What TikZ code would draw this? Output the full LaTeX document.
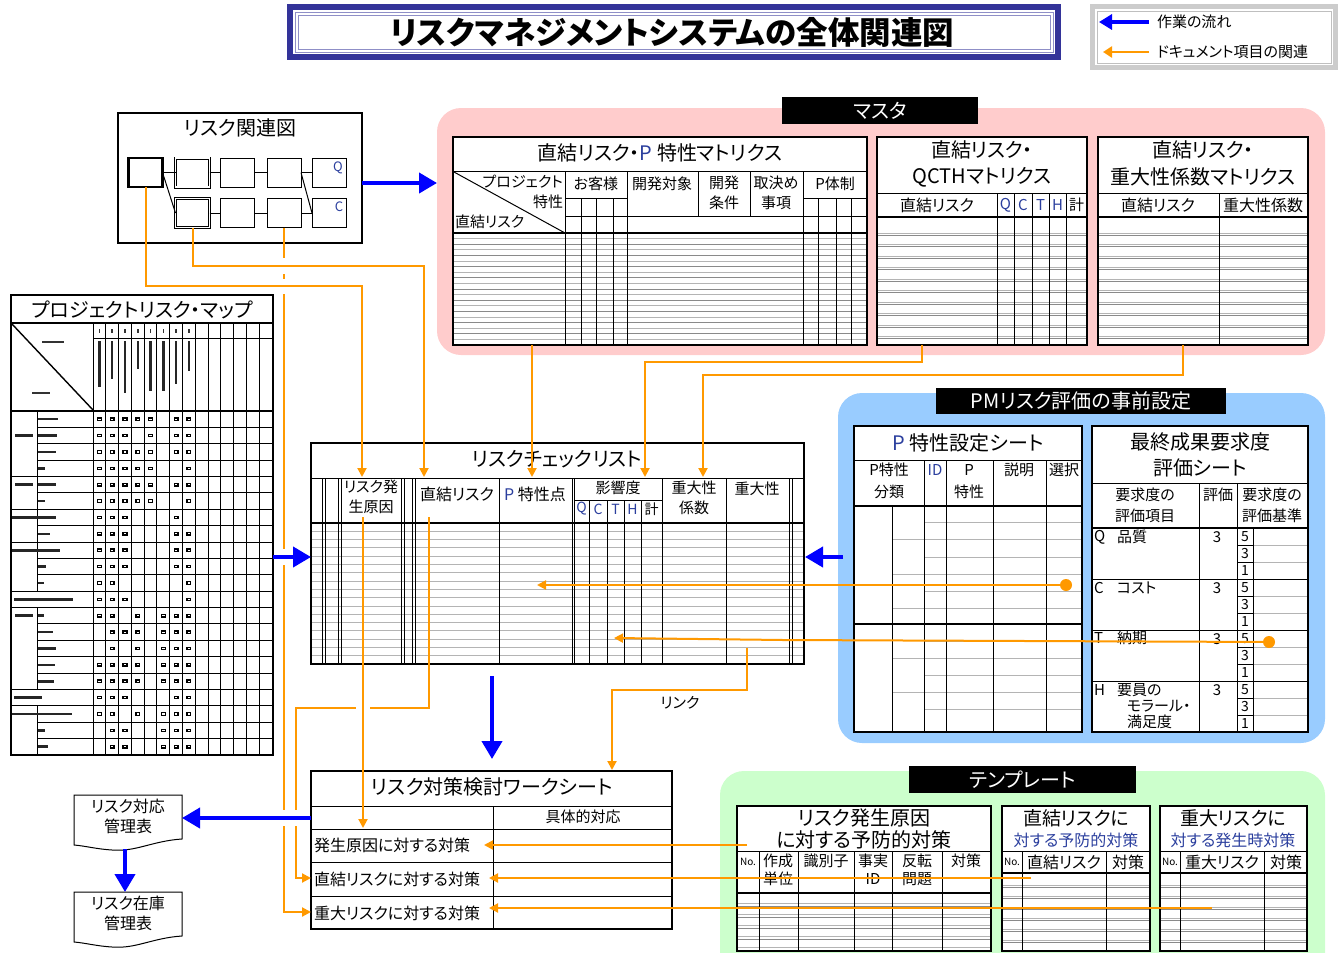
\documentclass[tikz,border=0pt]{standalone}
\usepackage{fontspec}
\setmainfont{Noto Sans CJK JP}[RawFeature=+palt]
\usetikzlibrary{arrows.meta,fit}
\definecolor{tframe}{HTML}{333399}
\definecolor{org}{HTML}{FF9900}
\definecolor{blu}{HTML}{0000FF}
\definecolor{pinkbg}{HTML}{FFCCCC}
\definecolor{bluebg}{HTML}{99CCFF}
\definecolor{greenbg}{HTML}{CCFFCC}
\definecolor{gline}{HTML}{B4B4B4}
\definecolor{gdark}{HTML}{8A8A8A}
\definecolor{navy}{HTML}{2B3F9E}
\newcommand{\fs}[1]{\fontsize{#1}{#1}\selectfont}
\begin{document}
\begin{tikzpicture}[x=1pt,y=-1pt,
  every node/.style={inner sep=0pt,outer sep=0pt},
  lbl/.style={anchor=center},
  lbll/.style={anchor=west},
  lblr/.style={anchor=east},
  tab/.style={draw=black,line width=2.2pt,fill=white},
  bl/.style={draw=black,line width=1pt},
  bk/.style={draw=black,line width=1.6pt},
  gl/.style={draw=gline,line width=0.9pt},
  gd/.style={draw=gdark,line width=0.7pt},
  oarr/.style={draw=org,line width=2pt,-{Triangle[length=9pt,width=9pt]}},
  barr/.style={draw=blu,line width=4pt,-{Triangle[length=18pt,width=20pt]}},
  tag/.style={fill=black,text=white,font=\fs{20}},
  sbox/.style={draw=black,line width=1pt,fill=white,minimum width=34pt,minimum height=29pt},
  dbox/.style={sbox,double,double distance=1.6pt,line width=0.7pt},
  dot/.style={circle,fill=org,minimum size=12pt},
  gap/.style={fill=white},
]
\useasboundingbox (0,0) rectangle (1342,953);
\clip (0,0) rectangle (1342,953);

% ---------------- background regions
\fill[pinkbg,rounded corners=24pt] (437,108) rectangle (1325,355);
\fill[bluebg,rounded corners=24pt] (838,393) rectangle (1325,743);
\fill[greenbg,rounded corners=24pt] (720,771) rectangle (1325,1000);
\node[tag,minimum width=196pt,minimum height=27pt] (mtag) at (880,110.5) {マスタ};
\node[tag,minimum width=290pt,minimum height=26pt] (ptag) at (1081,401) {PMリスク評価の事前設定};
\node[tag,minimum width=227pt,minimum height=27pt] (ttag) at (1022.5,779.5) {テンプレート};

% ---------------- title
\node[fill=tframe,fit={(287,4) (1061,60)}] (titlebox) {};
\fill[white] (293,10) rectangle (1055,54);
\draw[tframe!55,line width=0.7pt] (295,12) rectangle (1053,52);
\draw[tframe!55,line width=0.7pt] (298,15) rectangle (1050,49);
\node[lbl] (title) at (672,32) {\fs{31.5}\bfseries リスクマネジメントシステムの全体関連図};

% ---------------- legend
\node[fill=gray!40,fit={(1090,4) (1338,70)}] (legend) {};
\fill[white] (1095,9) rectangle (1333,65);
\draw[gray!50,line width=0.6pt] (1097,11) rectangle (1331,63);
\coordinate (lgA) at (1149,22); \coordinate (lgB) at (1099,22);
\coordinate (lgC) at (1149,52); \coordinate (lgD) at (1103,52);
\draw[draw=blu,line width=3.5pt,-{Triangle[length=13pt,width=15pt]}] (lgA) -- (lgB);
\draw[draw=org,line width=2.5pt,-{Triangle[length=9pt,width=11pt]}] (lgC) -- (lgD);
\node[lbll] (lg1) at (1157,22) {\fs{15}作業の流れ};
\node[lbll] (lg2) at (1157,52) {\fs{15}ドキュメント項目の関連};

% ---------------- risk related diagram
\node[tab,line width=2.5pt,fit={(118,113) (362,243)}] (rk) {};
\node[lbl] (rkt) at (240,128) {\fs{20}リスク関連図};
\node[sbox,line width=2.2pt] (r11) at (145.5,172.5) {};
\node[dbox] (r12) at (192.5,172.5) {};
\node[sbox] (r13) at (237.5,172.5) {};
\node[sbox] (r14) at (284,172.5) {};
\node[sbox] (r15) at (329,172.5) {};
\node[dbox] (r22) at (192.5,213) {};
\node[sbox] (r23) at (237.5,213) {};
\node[sbox] (r24) at (284,213) {};
\node[sbox] (r25) at (329,213) {};
\draw[bl] (r11.east) -- (r12.west);
\draw[bl] (r12.east) -- (r13.west);
\draw[bl] (r13.east) -- (r14.west);
\draw[bl] (r14.east) -- (r15.west);
\draw[bl] (r22.east) -- (r23.west);
\draw[bl] (r23.east) -- (r24.west);
\draw[bl] (r24.east) -- (r25.west);
\draw[bl] (r11.east) -- (r22.west);
\draw[bl] (r14.east) -- (r25.west);
\node[lbl] (qlab) at (338,168) {\fs{13}\color{navy}Q};
\node[lbl] (clab) at (339,207) {\fs{13}\color{navy}C};

% ---------------- project risk map
\node[tab,line width=2.5pt,fit={(11,295) (273,755)}] (map) {};
\node[lbl] (mapt) at (142,310) {\fs{20}プロジェクトリスク・マップ};
\draw[bk] (11,323) -- (273,323);
\draw[bl] (93,338) -- (273,338);
\foreach \k in {0,...,13} \draw[bl] ({93+\k*12.786},323) -- ({93+\k*12.786},755);
\foreach \r in {1,...,20} \draw[bl] (37,{411+\r*16.38}) -- (273,{411+\r*16.38});
\foreach \r in {4,6,8,11,12,17,18} \draw[bl] (11,{411+\r*16.38}) -- (37,{411+\r*16.38});
\draw[bl] (37,411) -- (37,{411+11*16.38});
\draw[bl] (37,{411+12*16.38}) -- (37,{411+17*16.38});
\draw[bl] (37,{411+18*16.38}) -- (37,755);
\draw[bk] (11,411) -- (273,411);
\draw[bl,line width=1.4pt] (12,324) -- (93,410);
\foreach \c/\len in {1/46,2/38,3/52,4/28,5/50,6/50,7/43,8/30} {
  \fill[black!85] ({93+(\c-0.5)*12.786-1.2},341) rectangle ++(2.4,\len);
  \fill[black!80] ({93+(\c-0.5)*12.786-0.8},329) rectangle ++(1.6,4);
}
\fill[black!80] (42,341) rectangle (64,343);
\fill[black!80] (32,392) rectangle (50,394);
\foreach \r/\a/\b in {1/38/58,2/38/57,3/38/56,4/38/45,5/38/56,6/38/45,7/12/56,8/38/50,9/12/60,10/38/46,11/38/44,12/14/73,13/38/44,14/38/53,15/38/56,16/38/55,17/38/54,18/14/42,19/12/72,20/38/45,21/38/48}
  \fill[black!85] (\a,{411+(\r-0.5)*16.38-1.3}) rectangle (\b,{411+(\r-0.5)*16.38+1.3});
\foreach \r in {2,5,13}
  \fill[black!85] (15,{411+(\r-0.5)*16.38-1.3}) rectangle (33,{411+(\r-0.5)*16.38+1.3});
\foreach \r/\cs in {1/{1,2,3,4,5,7,8},2/{1,2,3,5,7,8},3/{1,2,3,4,5,7,8},4/{1,2,3,4,5,8},5/{1,2,3,4,5,7,8},6/{1,2,3,4,5,8},7/{1,2,3,7},8/{1,2,3,7,8},9/{1,2,3,7,8},10/{1,2,3,7,8},11/{1,2,8},12/{1,2,3,8},13/{1,2,4,6,7,8},14/{2,3,4,6,7,8},15/{2,4,6,7,8},16/{1,2,3,4,6,7,8},17/{1,2,3,4,6,7,8},18/{1,2,3,7,8},19/{1,2,4,6,7,8},20/{2,3,6,7,8},21/{2,3,6,7,8}} {
  \foreach \c in \cs {
    \pgfmathsetmacro{\cx}{93+(\c-0.5)*12.786}
    \pgfmathsetmacro{\cy}{411+(\r-0.5)*16.38}
    \fill[black] ({\cx-2.6},{\cy-1.8}) rectangle ({\cx+2.6},{\cy+1.8});
    \fill[white] ({\cx-1.2},{\cy-0.6}) rectangle ({\cx+1.2},{\cy+0.6});
  }
}
\draw[line width=2.5pt] (map.north west) rectangle (map.south east);

% ---------------- master table 1
\node[tab,fit={(453,137) (867,345)}] (mt1) {};
\node[lbl] (mt1t) at (660,153) {\fs{20}直結リスク・{\color{navy}P} 特性マトリクス};
\foreach \k in {1,...,19} {
  \pgfmathsetmacro{\yy}{233+\k*5.6}
  \ifodd\k \draw[gl] (453,\yy) -- (867,\yy); \else \draw[gd] (453,\yy) -- (867,\yy); \fi
}
\draw[bl] (453,171) -- (867,171);
\draw[bl] (454,172) -- (565,233);
\foreach \x in {565,627,803} \draw[bl] (\x,171) -- (\x,345);
\foreach \x in {698,750} \draw[bl] (\x,171) -- (\x,216);
\draw[bl] (565,198) -- (627,198);
\draw[bl] (803,198) -- (867,198);
\foreach \x in {581,596,613,818,836,851} \draw[bl] (\x,198) -- (\x,345);
\draw[bl] (565,216) -- (867,216);
\draw[bk] (453,233) -- (867,233);
\node[lblr] (h1a) at (563,182) {\fs{15}プロジェクト};
\node[lblr] (h1b) at (563,202) {\fs{15}特性};
\node[lbll] (h1c) at (455,222) {\fs{15}直結リスク};
\node[lbl] (h1d) at (596,184) {\fs{15}お客様};
\node[lbl] (h1e) at (662,184) {\fs{15}開発対象};
\node[lbl] (h1f) at (724,183) {\fs{15}開発};
\node[lbl] (h1g) at (724,203) {\fs{15}条件};
\node[lbl] (h1h) at (776,183) {\fs{15}取決め};
\node[lbl] (h1i) at (776,203) {\fs{15}事項};
\node[lbl] (h1j) at (835,184) {\fs{15}P体制};
\draw[line width=2.2pt] (mt1.north west) rectangle (mt1.south east);

% ---------------- master table 2
\node[tab,fit={(877,137) (1087,345)}] (mt2) {};
\node[lbl] (mt2t) at (982,150) {\fs{20}直結リスク・};
\node[lbl] (mt2u) at (982,177) {\fs{20}QCTHマトリクス};
\foreach \k in {0,...,9} {
  \draw[gl] (877,{233+\k*11.5}) -- (1087,{233+\k*11.5});
  \draw[gd] (877,{235.2+\k*11.5}) -- (1087,{235.2+\k*11.5});
}
\draw[bl] (877,193) -- (1087,193);
\foreach \x in {997,1014,1032,1049,1066} \draw[bl] (\x,193) -- (\x,345);
\draw[bk] (877,217) -- (1087,217);
\node[lbl] (h2a) at (937,205) {\fs{16}直結リスク};
\node[lbl] (h2q) at (1005.5,205) {\fs{15}\color{navy}Q};
\node[lbl] (h2c) at (1023,205) {\fs{15}\color{navy}C};
\node[lbl] (h2t) at (1040.5,205) {\fs{15}\color{navy}T};
\node[lbl] (h2h) at (1057.5,205) {\fs{15}\color{navy}H};
\node[lbl] (h2s) at (1076.5,205) {\fs{15}計};
\draw[line width=2.2pt] (mt2.north west) rectangle (mt2.south east);

% ---------------- master table 3
\node[tab,fit={(1098,137) (1308,345)}] (mt3) {};
\node[lbl] (mt3t) at (1203,150) {\fs{20}直結リスク・};
\node[lbl] (mt3u) at (1203,177) {\fs{20}重大性係数マトリクス};
\foreach \k in {0,...,9} {
  \draw[gl] (1098,{233+\k*11.5}) -- (1308,{233+\k*11.5});
  \draw[gd] (1098,{235.2+\k*11.5}) -- (1308,{235.2+\k*11.5});
}
\draw[bl] (1098,193) -- (1308,193);
\draw[bl] (1219,193) -- (1219,345);
\draw[bk] (1098,217) -- (1308,217);
\node[lbl] (h3a) at (1158,205) {\fs{16}直結リスク};
\node[lbl] (h3b) at (1263,205) {\fs{16}重大性係数};
\draw[line width=2.2pt] (mt3.north west) rectangle (mt3.south east);

% ---------------- P characteristic sheet
\node[tab,fit={(854,426) (1082,732)}] (ps) {};
\node[lbl] (pst) at (968,443) {\fs{20}{\color{navy}P} 特性設定シート};
\foreach \y in {522,557,591,641,675,709} \draw[gl] (924,\y) -- (1082,\y);
\foreach \y in {539,574,608,658,692} \draw[gl] (892,\y) -- (1082,\y);
\draw[bl] (854,460) -- (1082,460);
\foreach \x in {924,946,993,1046} \draw[bl] (\x,460) -- (\x,732);
\draw[bl] (892,506) -- (892,732);
\draw[bk] (854,506) -- (1082,506);
\draw[bk] (854,624) -- (1082,624);
\node[lbl] (p1) at (889,470) {\fs{15}P特性};
\node[lbl] (p2) at (889,492) {\fs{15}分類};
\node[lbl] (p3) at (935,470) {\fs{15}\color{navy}ID};
\node[lbl] (p4) at (969,470) {\fs{15}P};
\node[lbl] (p5) at (969,492) {\fs{15}特性};
\node[lbl] (p6) at (1019,470) {\fs{15}説明};
\node[lbl] (p7) at (1064,470) {\fs{15}選択};
\draw[line width=2.2pt] (ps.north west) rectangle (ps.south east);

% ---------------- final result requirement sheet
\node[tab,fit={(1092,426) (1308,732)}] (fs) {};
\node[lbl] (fst1) at (1200,442) {\fs{20}最終成果要求度};
\node[lbl] (fst2) at (1200,468) {\fs{20}評価シート};
\foreach \g in {528,579,630,681} {
  \draw[gl] (1253,{\g+17}) -- (1308,{\g+17});
  \draw[gl] (1253,{\g+34}) -- (1308,{\g+34});
  \draw[bl] (1237,{\g+17}) -- (1253,{\g+17});
  \draw[bl] (1237,{\g+34}) -- (1253,{\g+34});
  \node[lbl] at (1245,{\g+9}) {\fs{14}5};
  \node[lbl] at (1245,{\g+26}) {\fs{14}3};
  \node[lbl] at (1245,{\g+43}) {\fs{14}1};
  \node[lbl] at (1217,{\g+9}) {\fs{15}3};
}
\draw[bl] (1092,483) -- (1308,483);
\draw[bl] (1199,483) -- (1199,732);
\draw[bl] (1237,483) -- (1237,732);
\draw[bl] (1253,528) -- (1253,732);
\draw[bk] (1092,528) -- (1308,528);
\foreach \g in {579,630,681} \draw[bl] (1092,\g) -- (1308,\g);
\node[lbl] (f1) at (1145,495) {\fs{15}要求度の};
\node[lbl] (f2) at (1145,516) {\fs{15}評価項目};
\node[lbl] (f3) at (1218,495) {\fs{15}評価};
\node[lbl] (f4) at (1272,495) {\fs{15}要求度の};
\node[lbl] (f5) at (1272,516) {\fs{15}評価基準};
\node[lbll] (fq) at (1094,537) {\fs{15}Q};
\node[lbll] (fq2) at (1117,537) {\fs{15}品質};
\node[lbll] (fc) at (1094,588) {\fs{15}C};
\node[lbll] (fc2) at (1117,588) {\fs{15}コスト};
\node[lbll] (ft) at (1094,638) {\fs{15}T};
\node[lbll] (ft2) at (1117,638) {\fs{15}納期};
\node[lbll] (fh) at (1094,690) {\fs{15}H};
\node[lbll] (fh2) at (1117,690) {\fs{15}要員の};
\node[lbll] (fh3) at (1127,706) {\fs{15}モラール・};
\node[lbll] (fh4) at (1127,722) {\fs{15}満足度};
\draw[line width=2.2pt] (fs.north west) rectangle (fs.south east);

% ---------------- risk check list
\node[tab,fit={(311,443) (804,664)}] (cl) {};
\node[lbl] (clt) at (557,459) {\fs{20}リスクチェックリスト};
\foreach \k in {1,...,16} \draw[gl] (311,{523+\k*8.3}) -- (804,{523+\k*8.3});
\draw[bl] (311,478) -- (804,478);
\foreach \x in {322,325,338,341,401,404,412,415,499,572,574,662,726,789,792} \draw[bl] (\x,478) -- (\x,664);
\foreach \x in {589,607,624,641} \draw[bl] (\x,500) -- (\x,664);
\draw[bl] (574,500) -- (662,500);
\draw[bk] (311,523) -- (804,523);
\node[lbl] (c1) at (371,487) {\fs{15}リスク発};
\node[lbl] (c2) at (371,507) {\fs{15}生原因};
\node[lbl] (c3) at (457,494) {\fs{16}直結リスク};
\node[lbl] (c4) at (535,494) {\fs{16}{\color{navy}P} 特性点};
\node[lbl] (c5) at (618,488) {\fs{15}影響度};
\node[lbl] (cq) at (581.5,509) {\fs{14}\color{navy}Q};
\node[lbl] (cc) at (598,509) {\fs{14}\color{navy}C};
\node[lbl] (ct) at (615.5,509) {\fs{14}\color{navy}T};
\node[lbl] (ch) at (632.5,509) {\fs{14}\color{navy}H};
\node[lbl] (cs) at (651.5,509) {\fs{14}計};
\node[lbl] (c6) at (694,488) {\fs{15}重大性};
\node[lbl] (c7) at (694,508) {\fs{15}係数};
\node[lbl] (c8) at (757,489) {\fs{15}重大性};
\draw[line width=2.2pt] (cl.north west) rectangle (cl.south east);

% ---------------- worksheet
\node[tab,fit={(311,771) (672,929)}] (ws) {};
\node[lbl] (wst) at (492,787) {\fs{20}リスク対策検討ワークシート};
\foreach \y in {806,829,862,896} \draw[bl] (311,\y) -- (672,\y);
\draw[bl] (493,806) -- (493,929);
\node[lbl] (wsh) at (583,817) {\fs{15}具体的対応};
\node[lbll] (ws1) at (314,845) {\fs{16}発生原因に対する対策};
\node[lbll] (ws2) at (314,879) {\fs{16}直結リスクに対する対策};
\node[lbll] (ws3) at (314,913) {\fs{16}重大リスクに対する対策};
\draw[line width=2.2pt] (ws.north west) rectangle (ws.south east);

% ---------------- documents
\node[fit={(74,795) (182,848)}] (d1) {};
\draw[black,line width=1pt,fill=white] (74,795) -- (182,795) -- (182,839) .. controls (152,841) and (136,852) .. (112,850) .. controls (96,849) and (86,846) .. (74,845) -- cycle;
\node[lbl] (d1a) at (128,806) {\fs{16}リスク対応};
\node[lbl] (d1b) at (128,826) {\fs{16}管理表};
\node[fit={(74,892) (182,945)}] (d2) {};
\draw[black,line width=1pt,fill=white] (74,892) -- (182,892) -- (182,936) .. controls (152,938) and (136,949) .. (112,947) .. controls (96,946) and (86,943) .. (74,942) -- cycle;
\node[lbl] (d2a) at (128,903) {\fs{16}リスク在庫};
\node[lbl] (d2b) at (128,923) {\fs{16}管理表};

% ---------------- templates
\node[tab,fit={(737,806) (991,951)}] (tt1) {};
\node[lbl] (tt1a) at (864,818) {\fs{20}リスク発生原因};
\node[lbl] (tt1b) at (864,840) {\fs{20}に対する予防的対策};
\foreach \k in {0,...,4} {
  \draw[gl] (737,{903+\k*11}) -- (991,{903+\k*11});
  \draw[gd] (737,{906+\k*11}) -- (991,{906+\k*11});
}
\draw[bl] (737,851) -- (991,851);
\foreach \x in {759,798,854,892,942} \draw[bl] (\x,851) -- (\x,951);
\draw[bk] (737,893) -- (991,893);
\node[lbl] (u1) at (748,862) {\fs{10}No.};
\node[lbl] (u2) at (778,861) {\fs{15}作成};
\node[lbl] (u3) at (778,879) {\fs{15}単位};
\node[lbl] (u4) at (826,861) {\fs{15}識別子};
\node[lbl] (u5) at (873,861) {\fs{15}事実};
\node[lbl] (u6) at (873,879) {\fs{15}ID};
\node[lbl] (u7) at (917,861) {\fs{15}反転};
\node[lbl] (u8) at (917,879) {\fs{15}問題};
\node[lbl] (u9) at (966,861) {\fs{15}対策};
\draw[line width=2.2pt] (tt1.north west) rectangle (tt1.south east);

\node[tab,fit={(1002,806) (1150,951)}] (tt2) {};
\node[lbl] (tt2a) at (1076,818) {\fs{19}直結リスクに};
\node[lbl] (tt2b) at (1076,840) {\fs{16}\color{navy}対する予防的対策};
\foreach \k in {0,...,5} {
  \draw[gl] (1002,{885+\k*11}) -- (1150,{885+\k*11});
  \draw[gd] (1002,{887.5+\k*11}) -- (1150,{887.5+\k*11});
}
\draw[bl] (1002,851) -- (1150,851);
\foreach \x in {1022,1106} \draw[bl] (\x,851) -- (\x,951);
\draw[bk] (1002,873) -- (1150,873);
\node[lbl] (v1) at (1012,862) {\fs{10}No.};
\node[lbl] (v2) at (1064,862) {\fs{16}直結リスク};
\node[lbl] (v3) at (1128,862) {\fs{16}対策};
\draw[line width=2.2pt] (tt2.north west) rectangle (tt2.south east);

\node[tab,fit={(1160,806) (1307,951)}] (tt3) {};
\node[lbl] (tt3a) at (1233,818) {\fs{19}重大リスクに};
\node[lbl] (tt3b) at (1233,840) {\fs{16}\color{navy}対する発生時対策};
\foreach \k in {0,...,5} {
  \draw[gl] (1160,{885+\k*11}) -- (1307,{885+\k*11});
  \draw[gd] (1160,{887.5+\k*11}) -- (1307,{887.5+\k*11});
}
\draw[bl] (1160,851) -- (1307,851);
\foreach \x in {1180,1264} \draw[bl] (\x,851) -- (\x,951);
\draw[bk] (1160,873) -- (1307,873);
\node[lbl] (w1) at (1170,862) {\fs{10}No.};
\node[lbl] (w2) at (1222,862) {\fs{16}重大リスク};
\node[lbl] (w3) at (1286,862) {\fs{16}対策};
\draw[line width=2.2pt] (tt3.north west) rectangle (tt3.south east);

% ---------------- connector end points
\coordinate (clcause) at (362,477);
\coordinate (cldirect) at (424,477);
\coordinate (clp) at (532,477);
\coordinate (climp) at (645,477);
\coordinate (clsev) at (703,477);
\coordinate (clpt) at (537,585);
\coordinate (clT) at (614,638);
\coordinate (clsrcA) at (363,517);
\coordinate (clsrcB) at (429,517);
\coordinate (clsrcC) at (747,648);
\coordinate (wsr1) at (363,828);
\coordinate (wsr2) at (311,878);
\coordinate (wsr3) at (311,912);
\coordinate (wsr1e) at (484,845);
\coordinate (wsr2e) at (489,878);
\coordinate (wsr3e) at (489,908);
\coordinate (wstop) at (612,770);
\coordinate (tt1s) at (747,845);
\coordinate (tt2s) at (1031,878);
\coordinate (tt3s) at (1212,908);
\coordinate (mt1s) at (532,345);
\coordinate (mt2s) at (922,345);
\coordinate (mt3s) at (1183,345);
\node[dot] (dot1) at (1066,585) {};
\node[dot] (dot2) at (1269,642) {};

% ---------------- orange connectors
\draw[oarr] (r24.south) |- (wsr3);
\draw[oarr] (clsrcB) -- (429,708) -| (296,878) -- (wsr2);
\fill[gap] (279,258) rectangle (289,274);
\fill[gap] (279,279) rectangle (289,294);
\fill[gap] (279,549) rectangle (289,565);
\fill[gap] (278,810) rectangle (302,826);
\fill[gap] (356,703) rectangle (370,713);
\draw[oarr] (r11.south) -- (145.5,286) -| (clcause);
\draw[oarr] (r22.south) -- (192.5,266) -| (cldirect);
\draw[oarr] (clsrcA) -- (wsr1);
\draw[oarr] (mt1s) -- (clp);
\draw[oarr] (mt2s) -- (922,362) -| (climp);
\draw[oarr] (mt3s) -- (1183,375) -| (clsev);
\draw[oarr] (dot1.center) -- (clpt);
\draw[oarr] (dot2.center) -- (783,640) -- (clT);
\draw[oarr] (clsrcC) -- (747,690) -| (wstop);
\node[lbl] (link) at (680,703) {\fs{15}リンク};
\draw[oarr] (tt1s) -- (wsr1e);
\draw[oarr] (tt2s) -- (wsr2e);
\draw[oarr] (tt3s) -- (wsr3e);

% ---------------- blue work-flow arrows
\coordinate (b1s) at (362,183); \coordinate (b1e) at (437,183);
\coordinate (b2s) at (273,557); \coordinate (b2e) at (311,557);
\coordinate (b3s) at (843,557); \coordinate (b3e) at (805,557);
\coordinate (b4s) at (492,676); \coordinate (b4e) at (492,759);
\coordinate (b5s) at (311,818); \coordinate (b5e) at (182,818);
\coordinate (b6s) at (125,849); \coordinate (b6e) at (125,892);
\draw[barr] (b1s) -- (b1e);
\draw[barr] (b2s) -- (b2e);
\draw[barr] (b3s) -- (b3e);
\draw[barr] (b4s) -- (b4e);
\draw[barr] (b5s) -- (b5e);
\draw[barr] (b6s) -- (b6e);
\end{tikzpicture}
\end{document}
